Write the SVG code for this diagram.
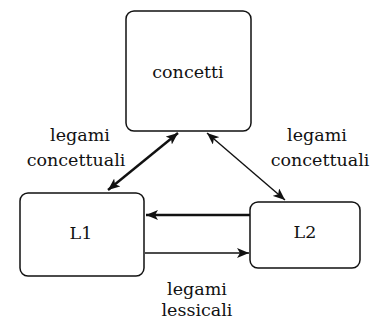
<svg xmlns="http://www.w3.org/2000/svg" width="372" height="320" viewBox="0 0 372 320">
  <style>
    .box { fill: #ffffff; stroke: #111111; stroke-width: 1.5; }
    .lbl { font-family: 'DejaVu Serif', 'Liberation Serif', serif; font-size: 17.5px; fill: #111111; text-anchor: middle; }
    .link { stroke: #111111; fill: none; }
    .thick { stroke-width: 2.4; }
    .thin { stroke-width: 1.4; }
  </style>
  <defs>
    <marker id="head" viewBox="0 0 12 10" refX="12" refY="5" markerWidth="12" markerHeight="10" markerUnits="userSpaceOnUse" orient="auto-start-reverse">
      <path d="M0,0 L12,5 L0,10 L3,5 Z" fill="#111111"/>
    </marker>
  </defs>
  <rect width="372" height="320" fill="#ffffff"/>

  <g id="concetti">
    <rect class="box" x="126" y="11" width="125" height="120" rx="8"/>
    <text class="lbl" x="188" y="78">concetti</text>
  </g>

  <g id="L1">
    <rect class="box" x="20" y="193" width="124" height="83" rx="8"/>
    <text class="lbl" x="81" y="239">L1</text>
  </g>

  <g id="L2">
    <rect class="box" x="250" y="202" width="110" height="66" rx="8"/>
    <text class="lbl" x="305" y="238">L2</text>
  </g>

  <g id="connectors">
    <line class="link thick" x1="108" y1="190" x2="178" y2="133" marker-start="url(#head)" marker-end="url(#head)"/>
    <line class="link thin" x1="207" y1="133" x2="285" y2="200" marker-start="url(#head)" marker-end="url(#head)"/>
    <line class="link thick" x1="250" y1="215" x2="146" y2="215" marker-end="url(#head)"/>
    <line class="link thin" x1="145" y1="253" x2="249" y2="253" marker-end="url(#head)"/>
  </g>

  <g id="labels">
    <text class="lbl" x="80" y="141">legami</text>
    <text class="lbl" x="76" y="166">concettuali</text>
    <text class="lbl" x="317" y="141">legami</text>
    <text class="lbl" x="320" y="166">concettuali</text>
    <text class="lbl" x="197" y="295">legami</text>
    <text class="lbl" x="197" y="316">lessicali</text>
  </g>
</svg>
